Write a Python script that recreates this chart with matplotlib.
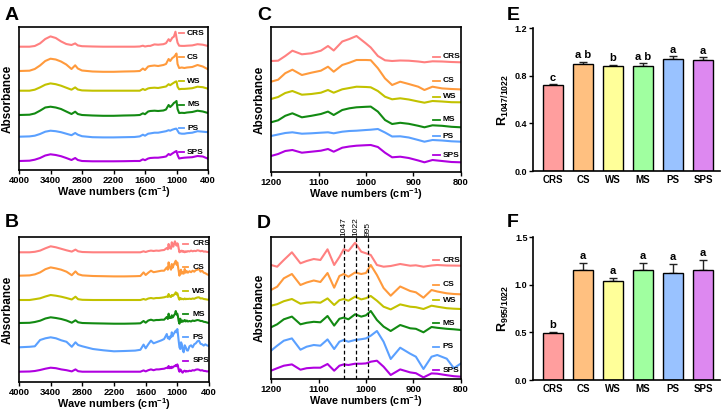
import matplotlib
matplotlib.use("Agg")
import matplotlib.pyplot as plt
import numpy as np

plt.rcParams['font.family'] = ['Liberation Sans', 'DejaVu Sans']
plt.rcParams['font.weight'] = 'bold'
plt.rcParams['mathtext.fontset'] = 'custom'
plt.rcParams['mathtext.rm'] = 'Liberation Sans:bold'
plt.rcParams['mathtext.bf'] = 'Liberation Sans:bold'
plt.rcParams['mathtext.it'] = 'Liberation Sans:bold'
plt.rcParams['mathtext.default'] = 'bf'

samples = ['CRS', 'CS', 'WS', 'MS', 'PS', 'SPS']
line_colors = ['#FF8080', '#FF9A3C', '#C2C200', '#128A12', '#5AA0FF', '#B000E0']
bar_colors = ['#FF9E9E', '#FFC080', '#FFFF99', '#A0FFA0', '#99C2FF', '#DD88F0']

# ---------------- Panel A: raw FTIR spectra (relative absorbance, a.u.) ----------------
wn_A = [4000, 3800, 3700, 3600, 3500, 3400, 3300, 3200, 3100, 3000, 2930, 2880, 2800, 2600,
        2400, 2200, 2000, 1800, 1700, 1640, 1600, 1540, 1500, 1420, 1350, 1250, 1200, 1150,
        1120, 1080, 1050, 1020, 1000, 980, 950, 900, 850, 800, 700, 600, 500, 400]
A_CRS = [0, 0, 0.7, 3.3, 7.7, 10.3, 8.7, 5.3, 2.7, 1.7, 3.3, 1.3, 0.5, 0.2,
         0, 0, 0, 0, 0.2, 1, 0.2, 0.8, 0.8, 2.3, 2, 2.5, 3.5, 7.5,
         5.5, 9, 10, 15, 9, 4, 1, 0.8, 0.8, 1, 1.3, 2.5, 2, 0.7]
A_CS = [0, 0.3, 2, 5.5, 10, 12.3, 11.5, 9.5, 6.5, 2, 5.7, 2.5, 0.5, -0.5,
        -0.8, -0.8, -0.5, -0.3, 0, 2.5, 1, 4.5, 5, 5.5, 5, 6, 7, 12,
        10, 13, 14, 16, 17.5, 7, 3, 3.5, 3, 3.5, 4, 6, 4.5, 1.7]
A_WS = [0, 0, 1, 3.3, 6, 7.3, 6.5, 5, 3, 1, 3.3, 1.2, 0.3, 0,
        0, 0, 0, 0, 0, 1.7, 0.7, 2.3, 2.7, 3, 2.7, 3.7, 4.2, 6.5,
        5.5, 7, 8, 9, 9.3, 4, 1.5, 1.8, 1.8, 2, 2.5, 4, 3.5, 2]
A_MS = [0, 0.3, 1.5, 4.3, 7.5, 8.3, 7.5, 6, 3.5, 1, 3.3, 1, 0, -0.5,
        -0.8, -0.8, -0.5, -0.3, 0, 1.7, 0.8, 3.5, 4, 4.3, 4, 4.5, 5.5, 10,
        8, 10, 12, 13, 14, 6, 2, 2.2, 2, 2.5, 3, 4.3, 3.5, 2]
A_PS = [0, 0.3, 1, 2.7, 5, 6, 5.5, 4.5, 3, 1.5, 3.7, 2, 0.5, -0.5,
        -0.7, -0.7, -0.5, -0.3, 0.3, 2, 1, 3, 3.3, 4, 4, 5, 5.5, 6.5,
        6, 7, 7.5, 8, 8, 6, 3.5, 3, 3, 3.5, 4, 5.5, 5, 4.5]
A_SPS = [0, 0.3, 1.3, 3, 5.5, 6.7, 6, 4.8, 3, 1, 3, 1, 0, -0.3,
         -0.3, -0.3, -0.2, 0, 0, 1.7, 0.8, 2.5, 3, 3.3, 3.3, 4, 4.5, 7,
         6, 7.5, 8.5, 9.5, 10, 6, 2.5, 3, 3.3, 3.5, 3.8, 5, 4.5, 2.3]

# ---------------- Panel B: deconvoluted spectra (relative absorbance, a.u.) ----------------
wn_B = [4000, 3800, 3700, 3600, 3500, 3400, 3300, 3200, 3100, 3000, 2930, 2880, 2800, 2600,
        2400, 2200, 2000, 1800, 1700,
        1640, 1600, 1550, 1500, 1450, 1400, 1350, 1300, 1250,
        1200, 1180, 1165, 1150, 1135, 1120, 1105, 1090, 1075, 1060, 1045, 1030, 1015, 1000,
        990, 975, 960, 945, 930, 915, 900, 880, 860, 840, 820, 800,
        770, 740, 710, 680, 650, 620, 590, 560, 530, 500, 470, 440, 420, 400]
B_CRS = [0, 0, 0.5, 1.7, 4, 6, 5, 3.5, 2, 0.7, 2.7, 1, 0.3, 0,
         0, 0, 0, 0, 0,
         1, 0.3, 1.2, 1.7, 1.3, 1.7, 1.5, 2, 2.3,
         4.3, 3, 8.3, 4, 5.5, 3.5, 10, 6, 5.7, 9, 11, 8, 6.7, 9,
         8.3, 4, 0, 1.5, 0.8, 1.7, 0.5, 1.2, 0, 1, 0.5, 1.2,
         0.8, 1.7, 1, 1.5, 1.2, 2, 1.7, 1, 1.5, 0.7, 0.8, 0.4, 0.3, 0]
B_CS = [0, 0.3, 1.3, 3.3, 6.5, 8.3, 7.3, 6, 4, 0.5, 4.3, 1.5, 0.3, -0.3,
        -0.5, -0.7, -0.7, -0.5, -0.3,
        3.3, 0.7, 3, 5, 3.5, 4, 4.5, 5, 5,
        8.3, 6, 13.3, 9, 7.5, 6, 11.7, 8, 10, 12, 13, 15, 11, 13.3,
        10, 5, 0, 4, 6, 2, 3.5, 2, 6.7, 3, 4.5, 3,
        4.5, 3.5, 5, 4, 5.5, 6, 6.7, 4, 5, 3, 2.5, 1.5, 1, 0.7]
B_WS = [0, 0, 0.8, 1.7, 3.5, 5, 4.3, 3.3, 2, 0.5, 3.3, 0.8, 0.2, 0,
        0, 0, 0, 0, 0,
        1, 0.3, 1.5, 2, 1.5, 2, 2, 2.3, 2.7,
        3.5, 3, 6, 3.5, 4, 3, 5, 4, 4.5, 5.5, 6, 7.7, 5.5, 6.7,
        5, 2, 0.3, 2, 1.5, 0.8, 1.2, 0.7, 1.5, 0.8, 1.2, 1,
        1.3, 1, 1.5, 1.2, 2, 2.5, 2.7, 1.5, 1.7, 1, 0.8, 0.5, 0.3, 0.3]
B_MS = [0, 0.2, 1, 2.3, 4.5, 5.7, 5, 4, 2.5, 0.3, 2.7, 0.7, 0, -0.3,
        -0.5, -0.7, -0.7, -0.5, -0.3,
        2, 0.3, 2.5, 3.3, 2.5, 3, 3, 3.3, 3.3,
        6, 4, 9.3, 5, 6, 5, 7.7, 5.5, 6.5, 8, 9, 12, 8.5, 9.3,
        7, 2, -0.7, 4.3, 2, 1, 2.5, 1.5, 3, 1.5, 2.5, 1.5,
        2, 1.5, 2.5, 2, 2.5, 3, 2.7, 2, 2, 1.2, 1, 0.5, 0.2, 0]
B_PS = [0, 0.5, 1, 7.3, 9, 10, 9, 7, 5.5, 0.5, 5, 2.3, 1, -1.7,
        -3, -4, -3.7, -3.3, -2.5,
        2.7, -1, 3, 6.7, 4, 5, 6, 7, 8.3,
        13.3, 9, 10, 8, 11, 10, 15, 11, 13, 14, 15.5, 16.7, 15, 18.3,
        14, 6.7, 0, -1.7, 5, 3.3, -2, -5, 2, 0, -3, -3.3,
        1, 2, 0, 3, 4, 6, 6.7, 3.5, 3, 1.7, 3, 2, 1.5, 1.7]
B_SPS = [0, 0.2, 0.7, 1.7, 3, 4, 3.5, 2.3, 1.5, 0.3, 2.3, 0.5, 0, 0,
         0, 0, 0, 0, 0,
         1.3, 0.3, 1.5, 2.3, 1.5, 2.3, 2.3, 2.7, 3,
         4, 3.5, 5.7, 3.5, 4.5, 3.5, 5, 4, 5, 5.5, 5.5, 6.7, 5.5, 7.3,
         6, 2, 0, 2.3, 1.5, 0, -1, 0.5, 1, 0, 0.7, 0.3,
         1, 0.7, 1.5, 1.2, 2, 2.3, 2, 1.2, 1.5, 0.8, 0.7, 0.3, 0.3, 0.5]

# ---------------- Panel C: 1200-800 cm-1 raw spectra ----------------
wn_C = [1200, 1185, 1170, 1155, 1135, 1115, 1095, 1080, 1068, 1050, 1035, 1020, 1000, 990,
        975, 960, 945, 928, 910, 890, 877, 860, 840, 820, 800]
C_CRS = [0, 0.3, 5, 10.3, 6.7, 7.7, 10.3, 15, 10.5, 19.5, 22, 25, 17.5, 13.5,
         5, 0.7, 0, 0.5, 0.3, -0.5, -1.3, -0.3, -0.5, -1, -1.3]
C_CS = [0, 2, 8.5, 12, 6.7, 9, 11, 15, 10, 16.7, 19, 21.7, 21.7, 21.5,
        13.5, 3.3, -3.3, 0, -2.3, -5, -8.3, -5, -6.7, -7.3, -7.7]
C_WS = [0, 2, 6, 8, 4.3, 5, 6.3, 9, 6.3, 9.7, 11, 12.3, 12, 11.7,
        8, 2.3, -0.3, 0.7, -0.5, -2.5, -3.7, -2, -2.5, -3.2, -3.3]
C_MS = [0, 2, 6.5, 9, 5, 6.5, 8.3, 10.7, 7.3, 12.3, 14, 15, 15.5, 15.7,
        10.7, 2.3, -1.7, -0.5, -1.5, -3.5, -5, -3, -3.5, -4.5, -5]
C_PS = [0, 1.5, 3, 3.7, 2.3, 2.7, 3.3, 3.7, 2.7, 4.3, 5, 5.3, 6, 6.3,
        7, 3.5, -0.5, -0.3, -1.5, -4, -5.7, -4, -4.5, -5.3, -5.7]
C_SPS = [0, 2, 5, 6, 3.3, 4.3, 5.3, 7, 4.3, 8.3, 9.5, 10.3, 10.8, 11,
         9, 3.3, -1.3, -0.7, -2, -4.5, -6.3, -4, -5, -6, -6.3]

# ---------------- Panel D: 1200-800 cm-1 deconvoluted spectra ----------------
wn_D = [1200, 1187, 1173, 1156, 1138, 1125, 1110, 1096, 1081, 1067, 1056, 1047, 1037, 1023,
        1010, 1000, 990, 977, 963, 948, 928, 907, 895, 879, 862, 850, 830, 815, 800]
D_CRS = [0, -1.7, 5, 12.7, 1.7, 4, 6, 5, 15.7, 0, 8, 15.7, 14, 22.3,
         13.3, 11.7, 10, 0, -1.7, -1, 1, -0.7, -0.3, -1.7, -0.5, 0, -0.5, -0.6, -0.7]
D_CS = [0, 3.3, 11.7, 16, 5, 7.5, 9.5, 8, 17, 2.3, 14, 16, 13.3, 17.5,
        16, 17, 25, 15, 2, -5.7, 3.5, -1, -2.3, -7.7, 0, -1.5, -3.3, -4, -4.3]
D_WS = [0, 1.5, 4.5, 6.7, 2, 3, 3.5, 3, 7.3, 0.7, 5.5, 6.7, 5, 9,
        6.3, 7.5, 9.7, 5, -1, -3.7, 1.3, -1, -1.5, -3.3, 0, -1, -2.5, -3, -3.3]
D_MS = [0, 3, 8, 10.7, 3, 4.5, 5.5, 5, 11.3, 1.7, 8.5, 9.7, 8, 13,
        10.7, 12, 16.3, 7.3, 0.7, -3.7, 2.3, -1, -1.5, -5, 0.3, -0.5, -1.5, -2, -2.7]
D_PS = [0, 5, 10, 12.3, 1, 4, 5.7, 5, 11.3, 1.7, 9, 10.7, 9, 10.7,
        11.5, 12.3, 15, 19.7, 9, -8.3, 3, -3, -6, -18.3, -6, -4.3, -8, -17.5, -12.7]
D_SPS = [0, 2.5, 5, 6.3, 1, 2.5, 3, 3, 6.7, 0, 5, 6.3, 5.7, 7,
         7, 7.3, 9, 10, 4, -4.3, 1.3, -1.7, -2.5, -6.7, -2.7, -3, -4.5, -5.5, -6]
marker_bands = [1047, 1022, 995]

# ---------------- Panel E / F: band ratios ----------------
E_mean = [0.718, 0.897, 0.877, 0.883, 0.942, 0.934]
E_err = [0.008, 0.020, 0.014, 0.020, 0.020, 0.019]
E_letters = ['c', 'a b', 'b', 'a b', 'a', 'a']
F_mean = [0.488, 1.158, 1.043, 1.151, 1.123, 1.158]
F_err = [0.018, 0.073, 0.031, 0.080, 0.098, 0.098]
F_letters = ['b', 'a', 'a', 'a', 'a', 'a']

W, H = 728, 411
fig = plt.figure(figsize=(W / 100, H / 100), dpi=100)


def add_ax(left, top, right, bottom):
    return fig.add_axes([left / W, 1 - bottom / H, (right - left) / W, (bottom - top) / H])


def spectra_panel(ax, wn, series, offsets, ylim, xlim, xticks, lab_y, lab_x):
    for s, vals, off, col in zip(samples, series, offsets, line_colors):
        ax.plot(wn, np.array(vals) + off, color=col, lw=1.5, solid_joinstyle='round')
    ax.set_xlim(*xlim)
    ax.set_ylim(0, ylim)
    ax.set_xticks(xticks)
    ax.set_xticklabels([str(t) for t in xticks], fontsize=6.8, fontweight='bold')
    ax.set_yticks([])
    ax.tick_params(axis='x', direction='out', length=3, width=1, pad=1)
    for sp in ax.spines.values():
        sp.set_linewidth(1.2)
    ax.set_ylabel('Absorbance', fontsize=8.5, fontweight='bold', labelpad=4)
    ax.set_xlabel('Wave numbers (cm$^{-1}$)', fontsize=7.8, fontweight='bold', labelpad=0)
    x0, x1, xt = lab_x
    for s, yy, col in zip(samples, lab_y, line_colors):
        ax.plot([x0, x1], [yy, yy], transform=ax.transAxes, color=col, lw=1.3, clip_on=False)
        ax.text(xt, yy, s, transform=ax.transAxes, fontsize=6, fontweight='bold',
                va='center', ha='left')


# A
axA = add_ax(19, 27, 208, 170)
spectra_panel(axA, wn_A, [A_CRS, A_CS, A_WS, A_MS, A_PS, A_SPS],
              [123.3, 99, 79.3, 55, 33.3, 9], 143, (4000, 400),
              [4000, 3400, 2800, 2200, 1600, 1000, 400],
              [0.956, 0.788, 0.622, 0.455, 0.292, 0.124], (0.847, 0.875, 0.889))
# B
axB = add_ax(19, 237, 209, 382)
spectra_panel(axB, wn_B, [B_CRS, B_CS, B_WS, B_MS, B_PS, B_SPS],
              [129.7, 106.3, 82, 59, 34.7, 10.3], 145, (4000, 400),
              [4000, 3400, 2800, 2200, 1600, 1000, 400],
              [0.952, 0.79, 0.625, 0.466, 0.31, 0.146], (0.863, 0.891, 0.912))
# C
axC = add_ax(271, 27, 461, 172)
spectra_panel(axC, wn_C, [C_CRS, C_CS, C_WS, C_MS, C_PS, C_SPS],
              [111, 90.3, 73, 49.7, 36, 16], 145, (1200, 800),
              [1200, 1100, 1000, 900, 800],
              [0.795, 0.628, 0.519, 0.359, 0.248, 0.117], (0.853, 0.89, 0.905))
# D
axD = add_ax(271, 237, 461, 379)
spectra_panel(axD, wn_D, [D_CRS, D_CS, D_WS, D_MS, D_PS, D_SPS],
              [114, 89, 73.3, 51.7, 28.3, 8.3], 142, (1200, 800),
              [1200, 1100, 1000, 900, 800],
              [0.838, 0.662, 0.556, 0.392, 0.227, 0.063], (0.853, 0.884, 0.905))
for b in marker_bands:
    axD.axvline(b, color='black', lw=0.9, ls=(0, (3, 2)))
    axD.text(b, 1.01, str(b), transform=axD.get_xaxis_transform(), rotation=90,
             ha='center', va='bottom', fontsize=6, fontweight='normal')


def bar_panel(ax, means, errs, letters, ylim, yticks, ylabel, gap):
    x = np.arange(len(samples))
    ax.bar(x, means, width=0.64, color=bar_colors, edgecolor='black', linewidth=1.0, zorder=2)
    ax.errorbar(x, means, yerr=[np.zeros(len(errs)), errs], fmt='none', ecolor='#222222',
                elinewidth=1.0, capsize=3, capthick=1.0, zorder=1)
    for xi, m, e, l in zip(x, means, errs, letters):
        ax.text(xi, m + e + gap, l, ha='center', va='bottom', fontsize=8, fontweight='bold')
    ax.set_xlim(-0.667, 5.567)
    ax.set_ylim(0, ylim)
    ax.set_yticks(yticks)
    ax.set_yticklabels(['%.1f' % t for t in yticks], fontsize=6.5, fontweight='bold')
    ax.set_xticks(x)
    ax.set_xticklabels(samples, fontsize=7, fontweight='bold')
    ax.tick_params(axis='x', length=0, pad=3)
    ax.tick_params(axis='y', direction='out', length=3, width=1, pad=1)
    for sp in ['top', 'right']:
        ax.spines[sp].set_visible(False)
    for sp in ['left', 'bottom']:
        ax.spines[sp].set_linewidth(1.2)
    ax.set_ylabel(ylabel, fontsize=9, fontweight='bold', labelpad=3)


axE = add_ax(533, 28, 720, 171)
bar_panel(axE, E_mean, E_err, E_letters, 1.2, [0.0, 0.4, 0.8, 1.2], r'R$_{1047/1022}$', 0.015)
axF = add_ax(533, 237, 720, 380)
bar_panel(axF, F_mean, F_err, F_letters, 1.5, [0.0, 0.5, 1.0, 1.5], r'R$_{995/1022}$', 0.02)

for letter, (px, py) in zip('ABCDEF', [(5, 20), (5, 227), (257, 20), (257, 228), (507, 20), (507, 227)]):
    fig.text(px / W, 1 - py / H, letter, fontsize=14, fontweight='bold', ha='left', va='baseline')

fig.savefig('out.png', dpi=100)
